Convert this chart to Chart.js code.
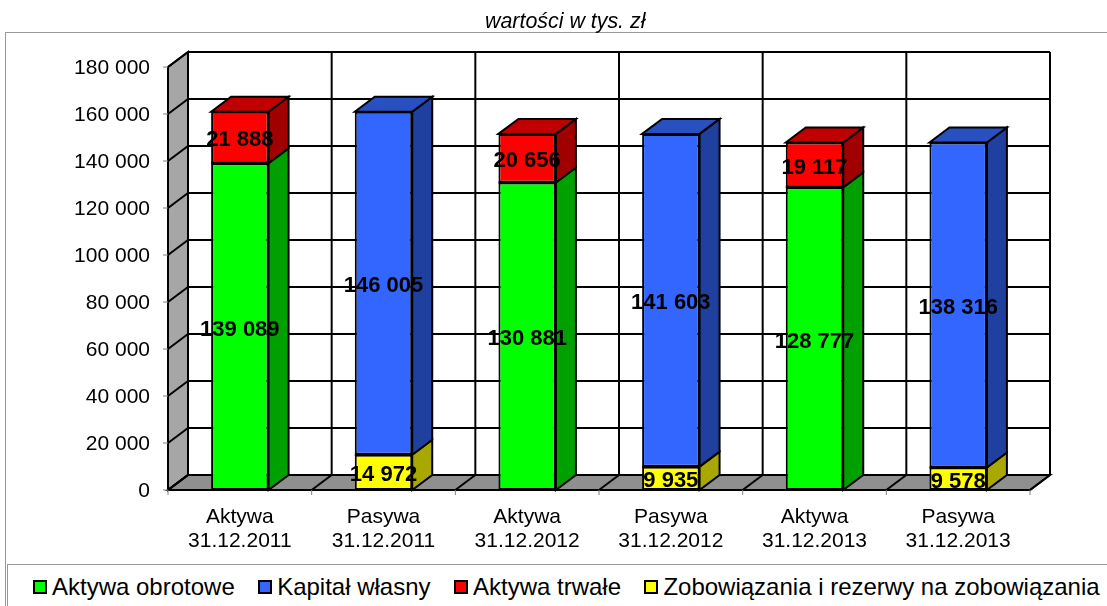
<!DOCTYPE html>
<html>
<head>
<meta charset="utf-8">
<title>Aktywa i pasywa</title>
<script src="https://cdn.jsdelivr.net/npm/chart.js@4"></script>
<style>
  html, body { margin: 0; padding: 0; background: #fff; overflow: hidden; }
  #wrap { position: relative; width: 1107px; height: 606px; font-family: "Liberation Sans", Arial, sans-serif; }
  #chart { position: absolute; left: 0; top: 0; }
  #frame { position: absolute; left: 5px; top: 32px; right: -2px; bottom: -2px; border: 1px solid #999; }
  #heading { position: absolute; left: 485px; top: 9px; font-size: 21.4px; line-height: 24px; font-style: italic; color: #000; white-space: nowrap; }
  #legend { position: absolute; left: 7px; top: 564px; right: -2px; bottom: -2px; border: 1px solid #999; background: #fff;
            display: flex; align-items: center; padding-left: 25px; padding-top: 1px; font-size: 24px; color: #000; white-space: nowrap; }
  .item { display: flex; align-items: center; margin-right: 23.4px; }
  .swatch { width: 10px; height: 10px; border: 2px solid #000; margin-right: 5px; }
</style>
</head>
<body>
<div id="wrap">
  <div id="frame"></div>
  <canvas id="chart" width="1107" height="606"></canvas>
  <div id="heading">wartości w tys. zł</div>
  <div id="legend"></div>
</div>
<script>
// Values, in thousands of PLN
const categories = [
  ['Aktywa', '31.12.2011'], ['Pasywa', '31.12.2011'],
  ['Aktywa', '31.12.2012'], ['Pasywa', '31.12.2012'],
  ['Aktywa', '31.12.2013'], ['Pasywa', '31.12.2013']
];
const aktywaObrotowe = [139089, null, 130881, null, 128777, null];
const aktywaTrwale = [21888, null, 20656, null, 19117, null];
const zobowiazania = [null, 14972, null, 9935, null, 9578];
const kapitalWlasny = [null, 146005, null, 141603, null, 138316];

const legendOrder = [
  ['Aktywa obrotowe', '#00ff00'],
  ['Kapitał własny', '#3366ff'],
  ['Aktywa trwałe', '#ff0000'],
  ['Zobowiązania i rezerwy na zobowiązania', '#ffff00']
];

// Depth of the fake 3D box, same for the bars and the walls
const DX = 20;
const DY = 15;

const fmt = v => String(v).replace(/\B(?=(\d{3})+$)/g, ' ');

function poly(ctx, pts, fill) {
  ctx.beginPath();
  pts.forEach((p, i) => i ? ctx.lineTo(p[0], p[1]) : ctx.moveTo(p[0], p[1]));
  ctx.closePath();
  if (fill) {
    ctx.fillStyle = fill;
    ctx.fill();
  }
  ctx.stroke();
}

function line(ctx, x1, y1, x2, y2) {
  ctx.beginPath();
  ctx.moveTo(x1, y1);
  ctx.lineTo(x2, y2);
  ctx.stroke();
}

// Walls, floor and grid go under the bars, side and top faces as well
const box3d = {
  id: 'box3d',
  beforeDatasetsDraw(chart) {
    const { ctx, chartArea: a, scales } = chart;
    const yTicks = scales.y.ticks.map(t => scales.y.getPixelForValue(t.value));
    const step = a.width / categories.length;
    ctx.save();
    ctx.strokeStyle = '#000';
    ctx.lineWidth = 2;

    poly(ctx, [[a.left, a.top], [a.left + DX, a.top - DY], [a.left + DX, a.bottom - DY], [a.left, a.bottom]], '#a6a6a6');
    poly(ctx, [[a.left, a.bottom], [a.left + DX, a.bottom - DY], [a.right + DX, a.bottom - DY], [a.right, a.bottom]], '#8f8f8f');

    yTicks.forEach(y => {
      line(ctx, a.left, y, a.left + DX, y - DY);
      line(ctx, a.left + DX, y - DY, a.right + DX, y - DY);
    });
    for (let i = 0; i <= categories.length; i++) {
      const x = a.left + i * step;
      line(ctx, x, a.bottom, x + DX, a.bottom - DY);
      line(ctx, x + DX, a.bottom - DY, x + DX, a.top - DY);
    }

    // tick marks outside the box
    ctx.strokeStyle = '#808080';
    ctx.lineWidth = 1;
    yTicks.forEach(y => line(ctx, a.left - 5, y, a.left, y));
    for (let i = 0; i <= categories.length; i++) {
      const x = a.left + i * step;
      line(ctx, x, a.bottom, x, a.bottom + 5);
    }
    ctx.strokeStyle = '#000';
    ctx.lineWidth = 2;

    const tops = {};
    chart.data.datasets.forEach((ds, d) => {
      chart.getDatasetMeta(d).data.forEach((bar, i) => {
        if (ds.data[i] === null) return;
        const r = bar.x + bar.width / 2;
        poly(ctx, [[r, bar.y], [r + DX, bar.y - DY], [r + DX, bar.base - DY], [r, bar.base]], ds.sideColor);
        tops[i] = { bar, color: ds.topColor };
      });
    });
    Object.values(tops).forEach(({ bar, color }) => {
      const l = bar.x - bar.width / 2;
      const r = bar.x + bar.width / 2;
      poly(ctx, [[l, bar.y], [l + DX, bar.y - DY], [r + DX, bar.y - DY], [r, bar.y]], color);
    });
    ctx.restore();
  },
  afterDatasetsDraw(chart) {
    const { ctx } = chart;
    ctx.save();
    ctx.strokeStyle = '#000';
    ctx.lineWidth = 2;
    ctx.fillStyle = '#000';
    ctx.font = 'bold 22px "Liberation Sans", Arial, sans-serif';
    ctx.textAlign = 'center';
    ctx.textBaseline = 'middle';
    chart.data.datasets.forEach((ds, d) => {
      chart.getDatasetMeta(d).data.forEach((bar, i) => {
        if (ds.data[i] === null) return;
        // seam between stacked segments
        line(ctx, bar.x - bar.width / 2, bar.base, bar.x + bar.width / 2, bar.base);
        ctx.fillText(fmt(ds.data[i]), bar.x, (bar.y + bar.base) / 2 + 3);
      });
    });
    ctx.restore();
  }
};

const barStyle = {
  borderColor: '#000',
  borderWidth: 2,
  borderSkipped: false,
  categoryPercentage: 1,
  barPercentage: 0.4
};

new Chart(document.getElementById('chart'), {
  type: 'bar',
  data: {
    labels: categories,
    datasets: [
      { label: 'Aktywa obrotowe', data: aktywaObrotowe, backgroundColor: '#00ff00', sideColor: '#00a000', topColor: '#00c000', ...barStyle },
      { label: 'Aktywa trwałe', data: aktywaTrwale, backgroundColor: '#ff0000', sideColor: '#a00000', topColor: '#c00000', ...barStyle },
      { label: 'Zobowiązania i rezerwy na zobowiązania', data: zobowiazania, backgroundColor: '#ffff00', sideColor: '#a8a800', topColor: '#c8c800', ...barStyle },
      { label: 'Kapitał własny', data: kapitalWlasny, backgroundColor: '#3366ff', sideColor: '#2040a0', topColor: '#2850c0', ...barStyle }
    ]
  },
  options: {
    responsive: false,
    animation: false,
    layout: { autoPadding: false, padding: { left: 60, right: 77, top: 67, bottom: 0 } },
    plugins: {
      legend: { display: false },
      tooltip: { enabled: false }
    },
    scales: {
      x: {
        stacked: true,
        grid: { display: false, drawTicks: false },
        border: { display: false },
        afterFit: s => { s.height = 116; },
        ticks: {
          color: '#000',
          padding: 15,
          maxRotation: 0,
          autoSkip: false,
          font: { family: '"Liberation Sans", Arial, sans-serif', size: 21, lineHeight: 1.143 }
        }
      },
      y: {
        stacked: true,
        min: 0,
        max: 180000,
        grid: { display: false, drawTicks: false },
        border: { display: false },
        afterFit: s => { s.width = 108; },
        ticks: {
          color: '#000',
          padding: 18,
          labelOffset: 1.5,
          stepSize: 20000,
          callback: fmt,
          font: { family: '"Liberation Sans", Arial, sans-serif', size: 21 }
        }
      }
    }
  },
  plugins: [box3d]
});

// Legend is plain HTML, the original has tight swatch gaps
const legendEl = document.getElementById('legend');
legendOrder.forEach(([name, color]) => {
  const item = document.createElement('div');
  item.className = 'item';
  const sw = document.createElement('div');
  sw.className = 'swatch';
  sw.style.background = color;
  const txt = document.createElement('span');
  txt.textContent = name;
  item.append(sw, txt);
  legendEl.appendChild(item);
});
</script>
</body>
</html>
